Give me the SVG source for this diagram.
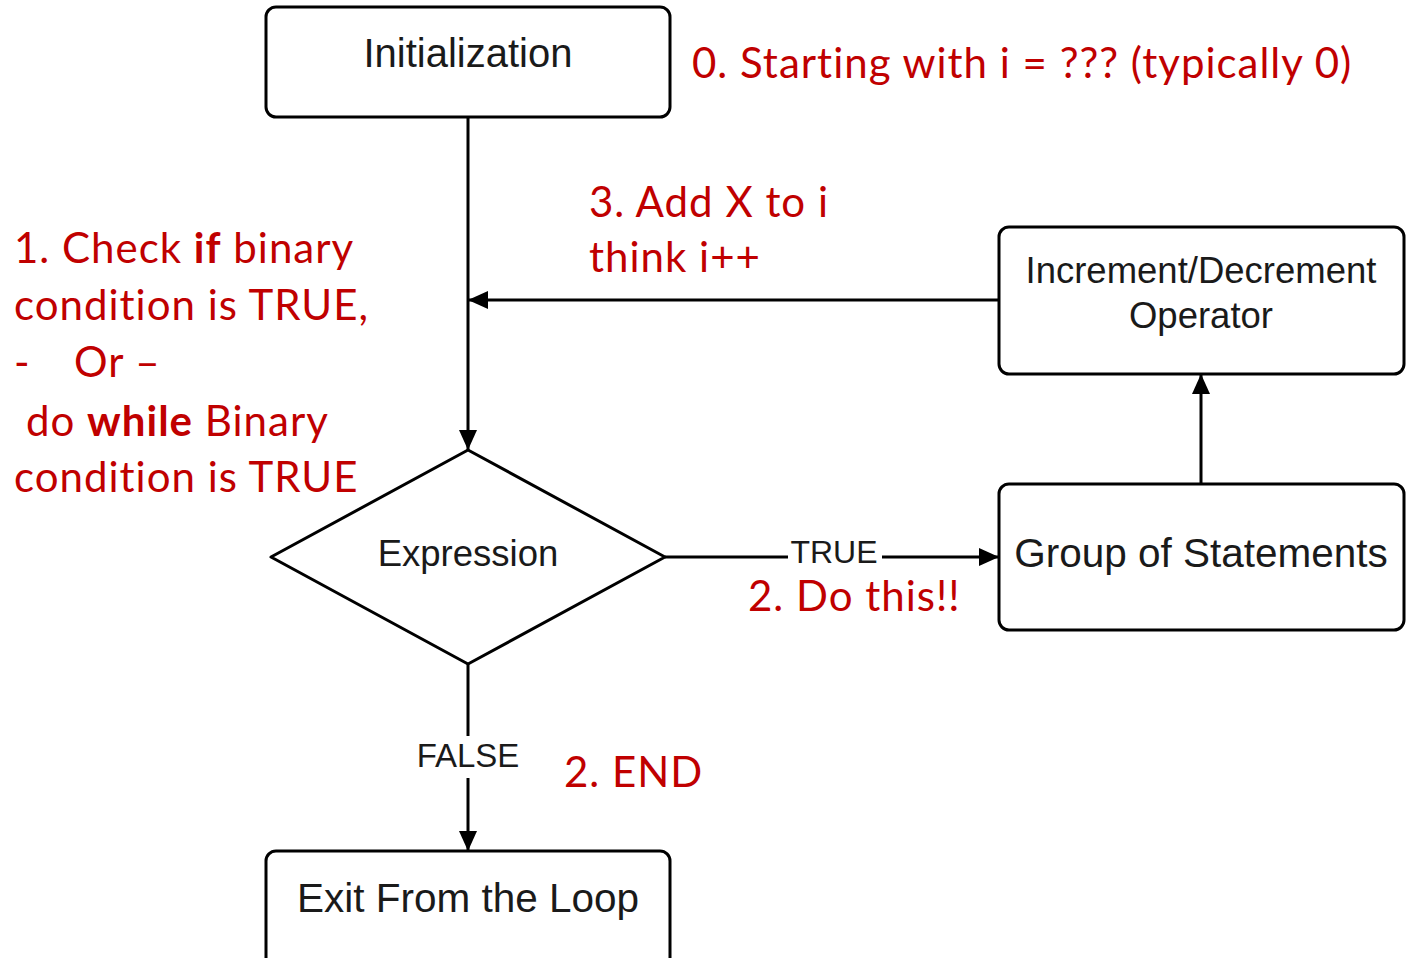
<svg xmlns="http://www.w3.org/2000/svg" width="1410" height="958" viewBox="0 0 1410 958">
<defs>
<marker id="ah" markerUnits="userSpaceOnUse" markerWidth="22" markerHeight="20" refX="20" refY="10" orient="auto">
<path d="M0,1 L20,10 L0,19 Z" fill="#000"/>
</marker>
<style>
.box{fill:#fff;stroke:#000;stroke-width:3}
.lbl{font-family:"Liberation Sans",Arial,sans-serif;fill:#1a1a1a;text-anchor:middle}
.edge{stroke:#000;stroke-width:3;fill:none}
.red{font-family:Lato,"Liberation Sans",sans-serif;fill:#C00000;font-size:42px;letter-spacing:1px}
.b{font-weight:bold}
</style>
</defs>
<rect width="1410" height="958" fill="#fff"/>
<g id="connectors">
<line class="edge" x1="468" y1="117" x2="468" y2="450" marker-end="url(#ah)"/>
<line class="edge" x1="999" y1="300" x2="468" y2="300" marker-end="url(#ah)"/>
<line class="edge" x1="1201" y1="484" x2="1201" y2="374" marker-end="url(#ah)"/>
<line class="edge" x1="665" y1="557" x2="999" y2="557" marker-end="url(#ah)"/>
<line class="edge" x1="468" y1="664" x2="468" y2="851" marker-end="url(#ah)"/>
<rect x="788" y="540" width="94" height="30" fill="#fff"/>
<text class="lbl" x="834" y="563" font-size="32">TRUE</text>
<rect x="414" y="736" width="108" height="42" fill="#fff"/>
<text class="lbl" x="468" y="767" font-size="33">FALSE</text>
</g>
<g id="init">
<rect class="box" x="266" y="7" width="404" height="110" rx="10"/>
<text class="lbl" x="468" y="67" font-size="40">Initialization</text>
</g>
<g id="expression">
<path class="box" d="M468,450 L665,557 L468,664 L271,557 Z" stroke-linejoin="round"/>
<text class="lbl" x="468" y="566" font-size="36.5">Expression</text>
</g>
<g id="incdec">
<rect class="box" x="999" y="227" width="405" height="147" rx="10"/>
<text class="lbl" x="1201" y="283" font-size="36.5">Increment/Decrement</text>
<text class="lbl" x="1201" y="328" font-size="36.5">Operator</text>
</g>
<g id="group">
<rect class="box" x="999" y="484" width="405" height="146" rx="10"/>
<text class="lbl" x="1201" y="567" font-size="40.5">Group of Statements</text>
</g>
<g id="exit">
<rect class="box" x="266" y="851" width="404" height="120" rx="10"/>
<text class="lbl" x="468" y="912" font-size="40.5">Exit From the Loop</text>
</g>
<g id="annotations">
<text class="red" x="692" y="78">0. Starting with i = ??? (typically 0)</text>
<text class="red" x="589" y="217">3. Add X to i</text>
<text class="red" x="589" y="272">think i++</text>
<text class="red" x="14" y="263">1. Check <tspan class="b">if</tspan> binary</text>
<text class="red" x="14" y="320">condition is TRUE,</text>
<text class="red" x="14" y="377">-<tspan x="74">Or –</tspan></text>
<text class="red" x="26" y="436">do <tspan class="b">while</tspan> Binary</text>
<text class="red" x="14" y="492">condition is TRUE</text>
<text class="red" x="748" y="611">2. Do this!!</text>
<text class="red" x="564" y="787">2. END</text>
</g>
</svg>
